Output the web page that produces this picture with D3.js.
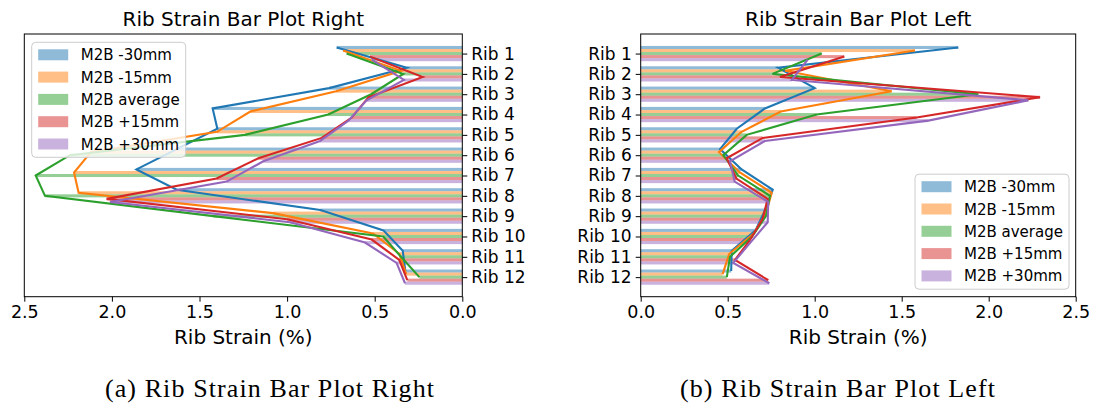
<!DOCTYPE html>
<html>
<head>
<meta charset="utf-8">
<script src="https://cdn.jsdelivr.net/npm/d3@7"></script>
<style>
  body { margin: 0; background: #fff; }
  svg { display: block; }
  text { font-family: "DejaVu Sans", sans-serif; fill: #000; }
  .caption { font-family: "Liberation Serif", "DejaVu Serif", serif; letter-spacing: 1.1px; }
</style>
</head>
<body>
<svg id="chart" width="1096" height="406"></svg>
<script>
// categories and series
var ribs = ["Rib 1", "Rib 2", "Rib 3", "Rib 4", "Rib 5", "Rib 6",
            "Rib 7", "Rib 8", "Rib 9", "Rib 10", "Rib 11", "Rib 12"];
var seriesNames = ["M2B -30mm", "M2B -15mm", "M2B average", "M2B +15mm", "M2B +30mm"];
var xTicks = [0, 0.5, 1.0, 1.5, 2.0, 2.5];

// right side strain (%) per rib
var rightM30 = [0.717, 0.317, 0.76, 1.425, 1.398, 1.63, 1.86, 1.63, 0.81, 0.45, 0.34, 0.325];
var rightM15 = [0.68, 0.35, 0.72, 1.21, 1.40, 2.12, 2.216, 2.19, 1.08, 0.51, 0.36, 0.32];
var rightAvg = [0.66, 0.337, 0.52, 0.765, 1.24, 2.24, 2.435, 2.382, 1.42, 0.451, 0.35, 0.245];
var rightP15 = [0.527, 0.226, 0.536, 0.631, 0.802, 1.164, 1.402, 2.03, 1.0, 0.517, 0.36, 0.314];
var rightP30 = [0.517, 0.333, 0.546, 0.65, 0.812, 1.136, 1.345, 2.011, 0.983, 0.555, 0.375, 0.327];

// left side strain (%) per rib
var leftM30 = [1.825, 0.79, 1.0, 0.714, 0.552, 0.456, 0.58, 0.759, 0.715, 0.66, 0.523, 0.52];
var leftM15 = [1.576, 0.83, 1.442, 0.805, 0.58, 0.45, 0.57, 0.753, 0.72, 0.65, 0.509, 0.471];
var leftAvg = [1.04, 0.757, 1.94, 1.011, 0.609, 0.475, 0.56, 0.743, 0.72, 0.64, 0.513, 0.495];
var leftP15 = [1.17, 0.80, 2.295, 1.586, 0.701, 0.494, 0.55, 0.73, 0.70, 0.63, 0.542, 0.733];
var leftP30 = [0.96, 0.868, 2.228, 1.653, 0.714, 0.513, 0.54, 0.733, 0.73, 0.63, 0.532, 0.739];

var colors = ["#1f77b4", "#ff7f0e", "#2ca02c", "#d62728", "#9467bd"];
var barH = 0.15;
var offsets = [-0.3, -0.15, 0, 0.15, 0.3];

var svg = d3.select("#chart");

function drawPanel(opts) {
    var x = d3.scaleLinear().domain(opts.xDomain).range([opts.left, opts.right]);
    var y = d3.scaleLinear().domain([-0.9625, 11.9625]).range([opts.top, opts.bottom]);
    var g = svg.append("g");

    // bars, one group per series
    opts.series.forEach(function (vals, s) {
        g.selectAll(null).data(vals).enter().append("rect")
            .attr("x", function (d) { return Math.min(x(0), x(d)); })
            .attr("width", function (d) { return Math.abs(x(d) - x(0)); })
            .attr("y", function (d, i) { return y(i + offsets[s] - barH / 2); })
            .attr("height", y(barH) - y(0))
            .attr("fill", colors[s])
            .attr("fill-opacity", 0.5);
    });

    // lines through the bar ends
    var line = d3.line()
        .x(function (d) { return x(d.v); })
        .y(function (d) { return y(d.i + d.o); });
    opts.series.forEach(function (vals, s) {
        var pts = vals.map(function (v, i) { return { v: v, i: i, o: offsets[s] }; });
        g.append("path").datum(pts)
            .attr("d", line)
            .attr("fill", "none")
            .attr("stroke", colors[s])
            .attr("stroke-width", 2.1);
    });

    // frame
    g.append("rect")
        .attr("x", opts.left).attr("y", opts.top)
        .attr("width", opts.right - opts.left).attr("height", opts.bottom - opts.top)
        .attr("fill", "none").attr("stroke", "#000").attr("stroke-width", 1);

    // x axis
    var xAxis = g.append("g")
        .attr("transform", "translate(0," + opts.bottom + ")")
        .call(d3.axisBottom(x).tickValues(xTicks).tickFormat(d3.format(".1f"))
            .tickSizeOuter(0).tickSize(5).tickPadding(4));
    xAxis.select(".domain").remove();
    xAxis.selectAll("text").attr("font-size", 17.5).attr("font-family", "DejaVu Sans");

    // y axis on the chosen side
    var yAx = opts.yRight ? d3.axisRight(y) : d3.axisLeft(y);
    var yAxis = g.append("g")
        .attr("transform", "translate(" + (opts.yRight ? opts.right : opts.left) + ",0)")
        .call(yAx.tickValues(d3.range(ribs.length)).tickFormat(function (i) { return ribs[i]; })
            .tickSizeOuter(0).tickSize(5).tickPadding(4));
    yAxis.select(".domain").remove();
    yAxis.selectAll("text").attr("font-size", 17).attr("font-family", "DejaVu Sans");

    // title and axis label
    var cx = (opts.left + opts.right) / 2;
    g.append("text").attr("x", cx).attr("y", 26)
        .attr("text-anchor", "middle").attr("font-size", 20).text(opts.title);
    g.append("text").attr("x", cx).attr("y", 344)
        .attr("text-anchor", "middle").attr("font-size", 20).text("Rib Strain (%)");

    // legend
    var lg = g.append("g").attr("transform", "translate(" + opts.legend[0] + "," + opts.legend[1] + ")");
    lg.append("rect").attr("width", 154).attr("height", 115).attr("rx", 4)
        .attr("fill", "#fff").attr("fill-opacity", 0.8)
        .attr("stroke", "#ccc").attr("stroke-width", 1);
    seriesNames.forEach(function (name, s) {
        var row = lg.append("g").attr("transform", "translate(0," + (12.5 + s * 22.3) + ")");
        row.append("rect").attr("x", 6.5).attr("y", -5.5).attr("width", 30).attr("height", 11)
            .attr("fill", colors[s]).attr("fill-opacity", 0.5);
        row.append("text").attr("x", 49).attr("y", 5.5).attr("font-size", 15).text(name);
    });

    // subfigure caption
    svg.append("text").attr("class", "caption")
        .attr("x", opts.captionX).attr("y", 397)
        .attr("text-anchor", "middle").attr("font-size", 26).text(opts.caption);
}

drawPanel({
    series: [rightM30, rightM15, rightAvg, rightP15, rightP30],
    xDomain: [2.5, 0], left: 24.3, right: 462.3, top: 34, bottom: 296.7,
    yRight: true, title: "Rib Strain Bar Plot Right",
    legend: [31.7, 42.3], caption: "(a) Rib Strain Bar Plot Right", captionX: 270
});

drawPanel({
    series: [leftM30, leftM15, leftAvg, leftP15, leftP30],
    xDomain: [0, 2.5], left: 640.7, right: 1075.7, top: 34, bottom: 296.7,
    yRight: false, title: "Rib Strain Bar Plot Left",
    legend: [915, 174.2], caption: "(b) Rib Strain Bar Plot Left", captionX: 838
});
</script>
</body>
</html>
